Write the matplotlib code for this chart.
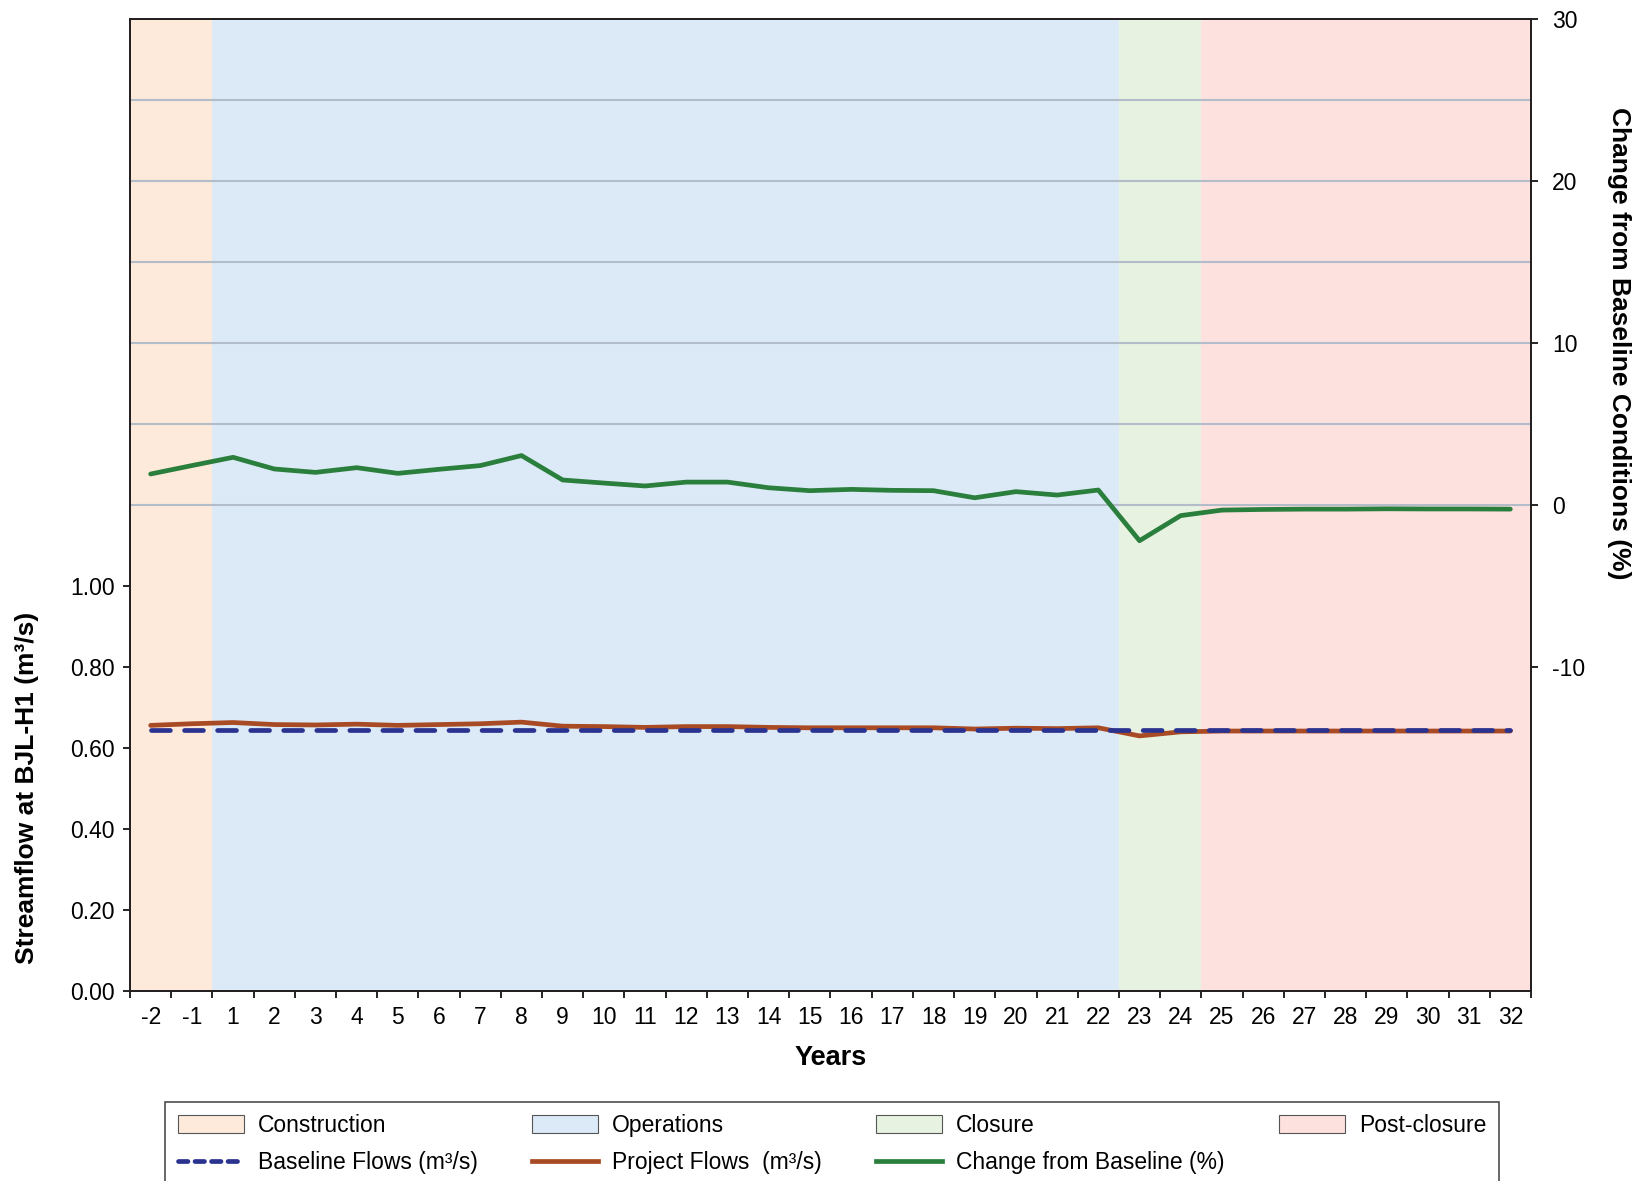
"""
Streamflow at BJL-H1 - baseline vs project, with % change
"""
import matplotlib
matplotlib.use('Agg')
import matplotlib.pyplot as plt
from matplotlib.patches import Patch
from matplotlib.lines import Line2D
import numpy as np

plt.rcParams['font.family'] = ['Liberation Sans', 'DejaVu Sans']
plt.rcParams['axes.unicode_minus'] = False

year_labels = ['-2', '-1'] + [str(y) for y in range(1, 33)]

baseline_flow = [0.643, 0.643, 0.643, 0.643, 0.643, 0.643, 0.643, 0.643, 0.643,
                 0.643, 0.643, 0.643, 0.643, 0.643, 0.643, 0.643, 0.643, 0.643,
                 0.643, 0.643, 0.643, 0.643, 0.643, 0.643, 0.643, 0.643, 0.643,
                 0.643, 0.643, 0.643, 0.643, 0.643, 0.643, 0.643]
project_flow = [0.655, 0.659, 0.662, 0.657, 0.656, 0.658, 0.655, 0.657, 0.659,
                0.663, 0.653, 0.652, 0.650, 0.652, 0.652, 0.650, 0.649, 0.649,
                0.649, 0.649, 0.646, 0.648, 0.647, 0.649, 0.629, 0.639, 0.641,
                0.641, 0.641, 0.641, 0.641, 0.641, 0.641, 0.641]
change_pct = [1.90, 2.42, 2.93, 2.21, 2.00, 2.29, 1.94, 2.19, 2.42, 3.04, 1.53,
              1.34, 1.16, 1.40, 1.40, 1.05, 0.87, 0.95, 0.89, 0.87, 0.43, 0.81,
              0.60, 0.91, -2.22, -0.67, -0.33, -0.29, -0.27, -0.27, -0.25, -0.26,
              -0.26, -0.27]

# phases: (label, first year, last year, colour)
phases = [('Construction', '-2', '-1', '#fdeadb'),
          ('Operations', '1', '22', '#dce9f6'),
          ('Closure', '23', '24', '#e7f2e0'),
          ('Post-closure', '25', '32', '#fde1de')]

x = np.arange(len(year_labels))

fig = plt.figure(figsize=(16.4, 11.81), dpi=100)
ax = fig.add_axes([0.0793, 0.1613, 0.8542, 0.8226])
ax2 = ax.twinx()

for name, y0, y1, col in phases:
    ax.axvspan(year_labels.index(y0) - 0.5, year_labels.index(y1) + 0.5,
               color=col, lw=0, zorder=0)

ax.set_xlim(-0.5, len(year_labels) - 0.5)
ax.set_ylim(0, 2.4)
ax2.set_ylim(-30, 30)

# grid on minor ticks so only 0-1.0 gets labels
ax.set_yticks(np.arange(0, 1.01, 0.2))
ax.set_yticklabels(['%.2f' % v for v in np.arange(0, 1.01, 0.2)])
ax.set_yticks(np.arange(0.2, 2.3, 0.2), minor=True)
ax.grid(which='minor', axis='y', color='#b3bdca', lw=1.5, zorder=1)
ax.set_axisbelow(True)
ax.tick_params(axis='y', which='minor', length=0)
ax.tick_params(axis='y', which='major', length=5, width=1.2, pad=6, labelsize=16.5)

ax2.set_yticks([-10, 0, 10, 20, 30])
ax2.tick_params(axis='y', length=5, width=1.2, pad=10, labelsize=16.5)

ax.set_xticks(x)
ax.set_xticklabels(year_labels)
ax.set_xticks(np.arange(-0.5, len(year_labels), 1.0), minor=True)
ax.tick_params(axis='x', which='major', length=0, pad=11, labelsize=16.5)
ax.tick_params(axis='x', which='minor', length=5, width=1.2)

for a in (ax, ax2):
    for s in a.spines.values():
        s.set_linewidth(1.3)
        s.set_color('#231f20')

ax.plot(x, project_flow, color='#a84a24', lw=3.4, solid_capstyle='round', zorder=3)
ax.plot(x, baseline_flow, color='#2b3390', lw=3.4, dashes=(4.0, 3.0),
        dash_capstyle='round', zorder=4)
ax2.plot(x, change_pct, color='#2a7f3c', lw=3.4, solid_capstyle='round', zorder=3)

ax.set_ylabel('Streamflow at BJL-H1 (m³/s)', fontsize=19, fontweight='bold')
ax.yaxis.set_label_coords(-0.065, 0.5 / 2.4)
ax2.set_ylabel('Change from Baseline Conditions (%)', fontsize=19,
               fontweight='bold', rotation=270, va='bottom')
ax2.yaxis.set_label_coords(1.054, 40 / 60)
ax.set_xlabel('Years', fontsize=19.5, fontweight='bold', labelpad=12)

handles = [Patch(facecolor=phases[0][3], edgecolor='#555555', lw=0.8),
           Line2D([], [], color='#2b3390', lw=3.4, dashes=(2.0, 1.5), dash_capstyle='round'),
           Patch(facecolor=phases[1][3], edgecolor='#555555', lw=0.8),
           Line2D([], [], color='#a84a24', lw=3.4),
           Patch(facecolor=phases[2][3], edgecolor='#555555', lw=0.8),
           Line2D([], [], color='#2a7f3c', lw=3.4),
           Patch(facecolor=phases[3][3], edgecolor='#555555', lw=0.8)]
labels = ['Construction', 'Baseline Flows (m³/s)', 'Operations',
          'Project Flows  (m³/s)', 'Closure', 'Change from Baseline (%)',
          'Post-closure']
leg = fig.legend(handles, labels, loc='upper left', ncol=4, mode='expand',
                 bbox_to_anchor=(0.1008, -0.1, 0.8131, 0.1673), borderaxespad=0,
                 fontsize=16.5, frameon=True, fancybox=False, edgecolor='#231f20',
                 handlelength=2.9, handleheight=0.8, labelspacing=0.6,
                 borderpad=0.55, handletextpad=0.6)
leg.get_frame().set_linewidth(1.2)

fig.savefig('out.png', dpi=100)
